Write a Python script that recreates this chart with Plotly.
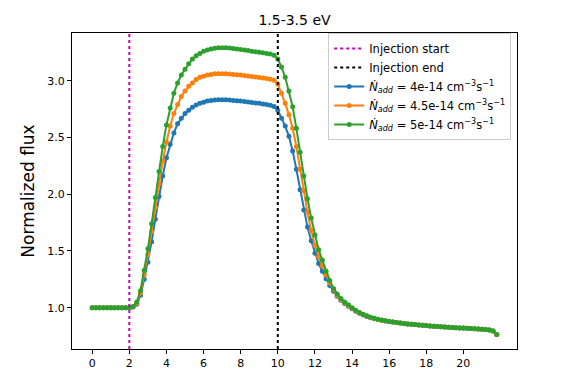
import plotly.graph_objects as go

time = [0.0, 0.2, 0.4, 0.6, 0.8, 1.0, 1.2, 1.4, 1.6, 1.8,
        2.0, 2.2, 2.4, 2.6, 2.8, 3.0, 3.2, 3.4, 3.6, 3.8,
        4.0, 4.2, 4.4, 4.6, 4.8, 5.0, 5.2, 5.4, 5.6, 5.8,
        6.0, 6.2, 6.4, 6.6, 6.8, 7.0, 7.2, 7.4, 7.6, 7.8,
        8.0, 8.2, 8.4, 8.6, 8.8, 9.0, 9.2, 9.4, 9.6, 9.8,
        10.0, 10.2, 10.4, 10.6, 10.8, 11.0, 11.2, 11.4, 11.6, 11.8,
        12.0, 12.2, 12.4, 12.6, 12.8, 13.0, 13.2, 13.4, 13.6, 13.8,
        14.0, 14.2, 14.4, 14.6, 14.8, 15.0, 15.2, 15.4, 15.6, 15.8,
        16.0, 16.2, 16.4, 16.6, 16.8, 17.0, 17.2, 17.4, 17.6, 17.8,
        18.0, 18.2, 18.4, 18.6, 18.8, 19.0, 19.2, 19.4, 19.6, 19.8,
        20.0, 20.2, 20.4, 20.6, 20.8, 21.0, 21.2, 21.4, 21.6, 21.8]

flux_4e14 = [1.0, 1.0, 1.0, 1.0, 1.0, 1.0, 1.0, 1.0, 1.0, 1.0,
             1.0, 1.005, 1.03, 1.11, 1.25, 1.40, 1.58, 1.78, 1.98, 2.16,
             2.32, 2.44, 2.54, 2.62, 2.67, 2.71, 2.74, 2.765, 2.785, 2.80,
             2.81, 2.82, 2.826, 2.83, 2.832, 2.832, 2.831, 2.829, 2.826, 2.823,
             2.82, 2.816, 2.812, 2.808, 2.804, 2.80, 2.795, 2.79, 2.784, 2.773,
             2.74, 2.67, 2.60, 2.51, 2.38, 2.22, 2.04, 1.86, 1.71, 1.59,
             1.48, 1.39, 1.32, 1.255, 1.195, 1.145, 1.10, 1.066, 1.037, 1.012,
             0.99, 0.969, 0.951, 0.936, 0.923, 0.912, 0.903, 0.895, 0.889, 0.883,
             0.878, 0.874, 0.869, 0.865, 0.861, 0.857, 0.854, 0.851, 0.848, 0.845,
             0.842, 0.839, 0.837, 0.834, 0.832, 0.83, 0.828, 0.826, 0.824, 0.822,
             0.82, 0.818, 0.816, 0.814, 0.812, 0.81, 0.807, 0.803, 0.795, 0.763]

flux_45e14 = [1.0, 1.0, 1.0, 1.0, 1.0, 1.0, 1.0, 1.0, 1.0, 1.0,
              1.0, 1.007, 1.04, 1.13, 1.29, 1.47, 1.67, 1.88, 2.09, 2.29,
              2.46, 2.60, 2.71, 2.79, 2.86, 2.91, 2.95, 2.98, 3.01, 3.03,
              3.04, 3.05, 3.055, 3.06, 3.062, 3.062, 3.06, 3.058, 3.055, 3.052,
              3.049, 3.045, 3.041, 3.037, 3.033, 3.029, 3.024, 3.019, 3.013, 3.003,
              2.97, 2.89, 2.80, 2.70, 2.58, 2.42, 2.22, 2.03, 1.84, 1.68,
              1.55, 1.45, 1.37, 1.29, 1.22, 1.16, 1.11, 1.073, 1.043, 1.018,
              0.995, 0.974, 0.955, 0.939, 0.926, 0.914, 0.905, 0.897, 0.890, 0.884,
              0.878, 0.874, 0.869, 0.865, 0.861, 0.857, 0.854, 0.851, 0.848, 0.845,
              0.842, 0.839, 0.837, 0.834, 0.832, 0.83, 0.828, 0.826, 0.824, 0.822,
              0.82, 0.818, 0.816, 0.814, 0.812, 0.81, 0.807, 0.803, 0.795, 0.763]

flux_5e14 = [1.0, 1.0, 1.0, 1.0, 1.0, 1.0, 1.0, 1.0, 1.0, 1.0,
             1.0, 1.01, 1.05, 1.15, 1.33, 1.52, 1.74, 1.97, 2.20, 2.42,
             2.61, 2.76, 2.89, 2.98, 3.05, 3.10, 3.15, 3.19, 3.22, 3.24,
             3.26, 3.27, 3.28, 3.285, 3.29, 3.29, 3.29, 3.287, 3.283, 3.279,
             3.275, 3.27, 3.265, 3.26, 3.255, 3.25, 3.245, 3.24, 3.235, 3.225,
             3.19, 3.12, 3.03, 2.91, 2.77, 2.58, 2.37, 2.16, 1.96, 1.79,
             1.64, 1.51, 1.42, 1.32, 1.24, 1.17, 1.12, 1.08, 1.05, 1.025,
             1.0, 0.978, 0.958, 0.942, 0.928, 0.916, 0.906, 0.898, 0.891, 0.885,
             0.879, 0.874, 0.869, 0.865, 0.861, 0.857, 0.854, 0.851, 0.848, 0.845,
             0.842, 0.839, 0.837, 0.834, 0.832, 0.83, 0.828, 0.826, 0.824, 0.822,
             0.82, 0.818, 0.816, 0.814, 0.812, 0.81, 0.807, 0.803, 0.795, 0.763]

injection_start = 2.0
injection_end = 10.0
series = [
    ("4e-14", flux_4e14, "#1f77b4"),
    ("4.5e-14", flux_45e14, "#ff7f0e"),
    ("5e-14", flux_5e14, "#2ca02c"),
]

fig = go.Figure()

# vertical markers as traces so they show in the legend
fig.add_trace(go.Scatter(
    x=[injection_start, injection_start], y=[0, 1], yaxis="y2",
    mode="lines", line=dict(color="#bf00bf", width=2, dash="dot"),
    name="Injection start"
))
fig.add_trace(go.Scatter(
    x=[injection_end, injection_end], y=[0, 1], yaxis="y2",
    mode="lines", line=dict(color="black", width=2, dash="dot"),
    name="Injection end"
))

for label, vals, color in series:
    fig.add_trace(go.Scatter(
        x=time, y=vals, mode="lines+markers",
        line=dict(color=color, width=2),
        marker=dict(color=color, size=5),
        name="<i>Ṅ<sub>add</sub></i> = " + label + " cm<sup>−3</sup>s<sup>−1</sup>"
    ))

axis_style = dict(showline=True, linecolor="black", linewidth=1, mirror=True,
                  ticks="outside", ticklen=4, tickcolor="black",
                  showgrid=False, zeroline=False, automargin=False,
                  tickfont=dict(size=11, color="black"))

fig.update_layout(
    width=574, height=371,
    paper_bgcolor="white", plot_bgcolor="white",
    font=dict(family="DejaVu Sans", color="black"),
    margin=dict(l=72, r=57, t=33, b=22),
    title=dict(text="1.5-3.5 eV", xref="paper", x=0.5, xanchor="center",
               yref="container", y=0.945, yanchor="middle", font=dict(size=14)),
    xaxis=dict(range=[-1.09, 22.89], tickvals=list(range(0, 21, 2)), **axis_style),
    yaxis=dict(range=[0.636, 3.42], tickvals=[1.0, 1.5, 2.0, 2.5, 3.0],
               ticktext=["1.0", "1.5", "2.0", "2.5", "3.0"],
               title=dict(text="Normalized flux", font=dict(size=17), standoff=8),
               **axis_style),
    yaxis2=dict(range=[0, 1], overlaying="y", visible=False),
    legend=dict(x=0.987, y=1.0, xanchor="right", yanchor="top",
                bgcolor="rgba(255,255,255,0.8)", bordercolor="#cccccc",
                borderwidth=1, font=dict(size=11.5), tracegroupgap=0),
)

# drop the default page margin so the figure sits at the window corner
fig.write_html("out.html", config={"displayModeBar": False},
               post_script="document.body.style.margin='0';")
